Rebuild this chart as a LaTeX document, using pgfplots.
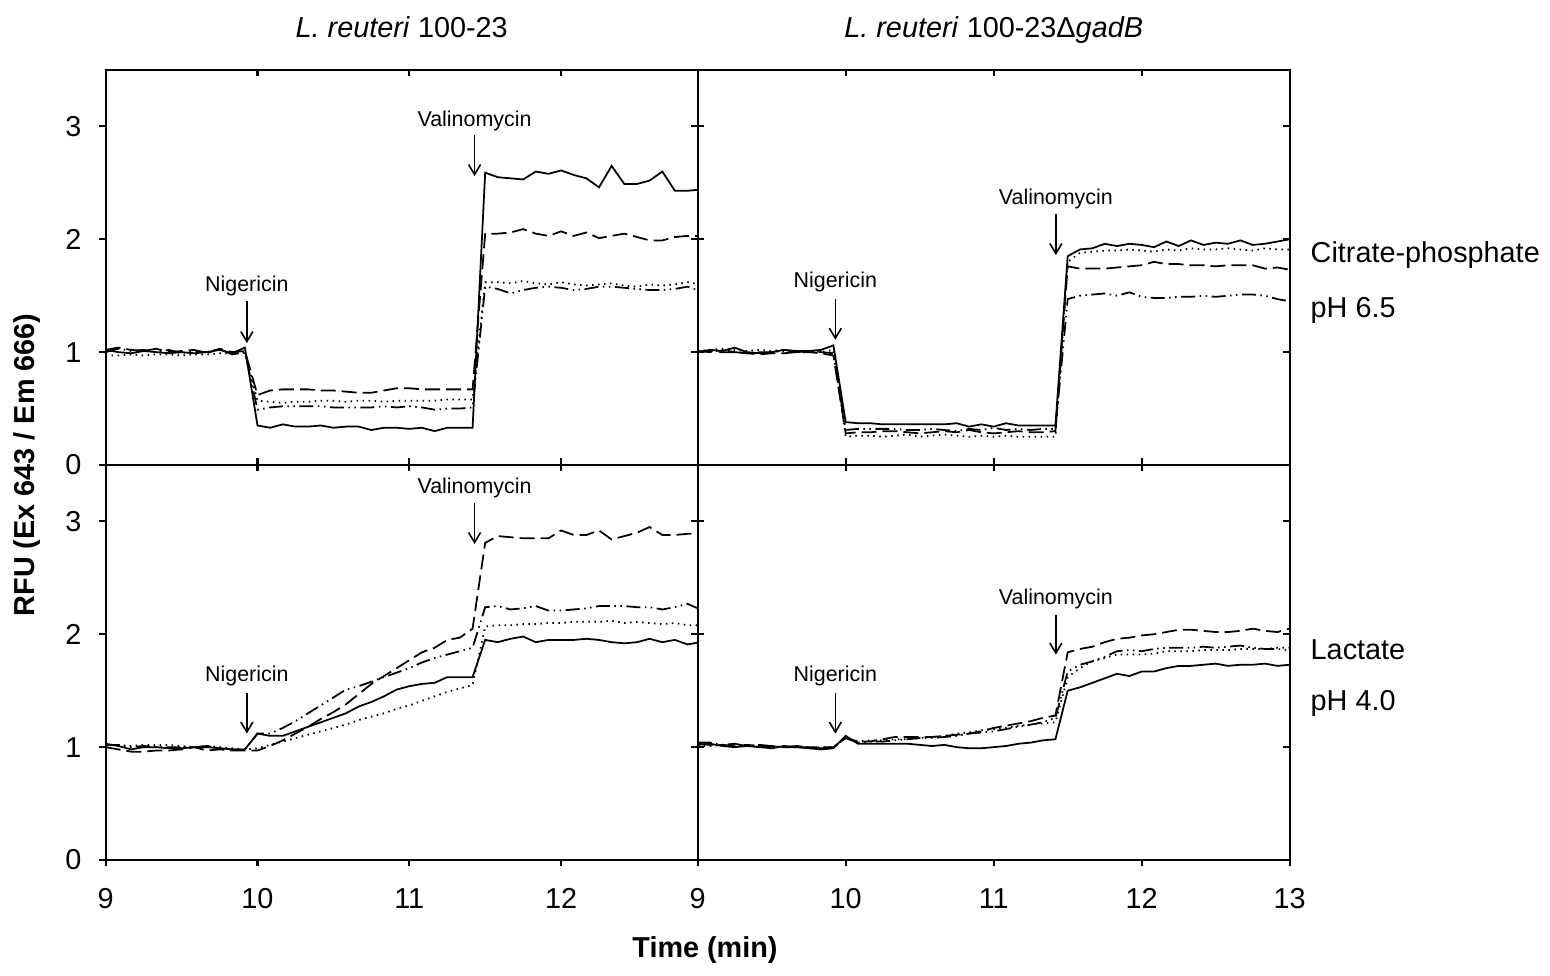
\documentclass[border=0pt]{standalone}
\usepackage{fontspec}
\setmainfont{Liberation Sans}
\usepackage{pgfplots}
\usepackage{pgfplotstable}
\pgfplotsset{compat=1.18}
\usetikzlibrary{arrows.meta}

\newcommand{\ticklab}{\fontsize{8.2}{9.8}\selectfont}
\newcommand{\annot}{\fontsize{6.1}{7.3}\selectfont}
\newcommand{\sidelab}{\fontsize{8.2}{9.8}\selectfont}

% columns: t = time (min), s = solid, d = dashed, o = dotted, dd = dash-dot-dot
\pgfplotstableread{
t s d o dd
9.000 1.02 1.02 0.97 1.00
9.083 1.00 1.04 0.97 1.03
9.167 0.99 1.02 0.98 1.01
9.250 1.01 1.01 0.97 1.02
9.333 1.00 1.03 0.98 1.00
9.417 0.99 1.00 0.98 1.02
9.500 1.00 1.01 0.97 0.99
9.583 0.99 1.02 0.98 1.01
9.667 1.00 0.99 0.98 1.00
9.750 1.02 1.03 0.99 1.03
9.833 0.99 1.00 0.99 0.98
9.917 1.04 1.01 0.99 1.00
10.000 0.35 0.62 0.57 0.49
10.083 0.33 0.66 0.56 0.51
10.167 0.36 0.67 0.55 0.52
10.250 0.34 0.67 0.56 0.52
10.333 0.34 0.67 0.56 0.52
10.417 0.35 0.66 0.57 0.52
10.500 0.33 0.66 0.57 0.51
10.583 0.34 0.65 0.56 0.51
10.667 0.34 0.64 0.57 0.51
10.750 0.31 0.64 0.57 0.51
10.833 0.33 0.66 0.56 0.52
10.917 0.33 0.68 0.57 0.51
11.000 0.32 0.68 0.57 0.52
11.083 0.33 0.67 0.57 0.51
11.167 0.30 0.67 0.57 0.49
11.250 0.33 0.67 0.58 0.50
11.333 0.33 0.67 0.58 0.50
11.417 0.33 0.67 0.58 0.51
11.500 2.59 2.05 1.62 1.58
11.583 2.55 2.05 1.62 1.56
11.667 2.54 2.06 1.61 1.52
11.750 2.53 2.09 1.63 1.55
11.833 2.60 2.05 1.61 1.57
11.917 2.58 2.03 1.60 1.58
12.000 2.61 2.07 1.62 1.57
12.083 2.57 2.03 1.60 1.55
12.167 2.54 2.06 1.59 1.56
12.250 2.46 2.01 1.60 1.58
12.333 2.65 2.03 1.61 1.58
12.417 2.49 2.05 1.59 1.57
12.500 2.49 2.02 1.58 1.56
12.583 2.52 1.99 1.60 1.55
12.667 2.60 1.99 1.59 1.55
12.750 2.43 2.02 1.60 1.56
12.833 2.43 2.03 1.62 1.58
12.917 2.44 2.03 1.60 1.54
}\TL

\pgfplotstableread{
t s d o dd
9.000 1.00 1.00 1.01 1.01
9.083 1.02 1.01 1.02 1.00
9.167 1.01 1.00 1.03 1.02
9.250 1.04 1.00 1.02 1.00
9.333 1.00 0.99 1.01 0.99
9.417 0.99 0.98 1.02 1.00
9.500 1.00 0.99 1.01 1.00
9.583 1.02 0.99 1.02 1.01
9.667 1.01 1.00 1.00 1.00
9.750 1.01 1.00 1.01 1.01
9.833 1.02 0.99 1.00 1.00
9.917 1.06 0.97 1.02 0.99
10.000 0.38 0.28 0.25 0.31
10.083 0.37 0.29 0.26 0.32
10.167 0.37 0.29 0.26 0.32
10.250 0.36 0.30 0.25 0.32
10.333 0.36 0.30 0.26 0.32
10.417 0.36 0.29 0.27 0.31
10.500 0.36 0.28 0.25 0.31
10.583 0.36 0.29 0.26 0.32
10.667 0.36 0.30 0.27 0.31
10.750 0.37 0.29 0.26 0.30
10.833 0.34 0.31 0.25 0.32
10.917 0.36 0.29 0.26 0.31
11.000 0.34 0.28 0.25 0.33
11.083 0.37 0.29 0.26 0.31
11.167 0.35 0.30 0.25 0.32
11.250 0.35 0.29 0.25 0.31
11.333 0.35 0.29 0.25 0.32
11.417 0.35 0.30 0.25 0.32
11.500 1.85 1.76 1.80 1.47
11.583 1.91 1.74 1.88 1.50
11.667 1.92 1.74 1.89 1.51
11.750 1.96 1.74 1.90 1.52
11.833 1.94 1.75 1.90 1.50
11.917 1.96 1.76 1.91 1.53
12.000 1.95 1.77 1.90 1.49
12.083 1.93 1.80 1.89 1.48
12.167 1.98 1.78 1.91 1.48
12.250 1.94 1.78 1.90 1.49
12.333 1.99 1.77 1.92 1.49
12.417 1.95 1.77 1.91 1.50
12.500 1.97 1.76 1.91 1.49
12.583 1.96 1.77 1.92 1.50
12.667 1.99 1.77 1.91 1.51
12.750 1.95 1.77 1.90 1.51
12.833 1.96 1.74 1.92 1.50
12.917 1.98 1.75 1.91 1.47
13.000 2.00 1.73 1.91 1.45
}\TR

\pgfplotstableread{
t s d o dd
9.000 1.03 1.00 1.02 1.02
9.083 1.01 0.98 1.02 1.02
9.167 0.98 0.96 1.01 1.00
9.250 1.00 0.96 1.02 1.01
9.333 1.00 0.97 1.02 1.00
9.417 0.99 0.97 1.02 1.00
9.500 0.99 0.98 1.01 1.00
9.583 1.00 1.00 1.00 1.00
9.667 1.00 0.97 1.01 1.01
9.750 0.99 0.98 1.00 0.99
9.833 0.98 0.97 0.99 0.98
9.917 0.98 0.97 0.98 0.98
10.000 1.12 0.97 0.99 1.12
10.083 1.10 1.01 1.02 1.12
10.167 1.10 1.06 1.05 1.17
10.250 1.14 1.12 1.08 1.23
10.333 1.18 1.18 1.11 1.30
10.417 1.22 1.25 1.14 1.37
10.500 1.26 1.31 1.17 1.44
10.583 1.30 1.38 1.20 1.51
10.667 1.36 1.47 1.24 1.54
10.750 1.40 1.56 1.27 1.58
10.833 1.45 1.63 1.30 1.62
10.917 1.51 1.70 1.34 1.66
11.000 1.54 1.77 1.37 1.70
11.083 1.56 1.84 1.41 1.75
11.167 1.57 1.88 1.45 1.79
11.250 1.62 1.95 1.49 1.82
11.333 1.62 1.97 1.52 1.85
11.417 1.62 2.05 1.55 1.88
11.500 1.95 2.81 2.07 2.24
11.583 1.93 2.87 2.08 2.25
11.667 1.96 2.86 2.08 2.22
11.750 1.98 2.85 2.09 2.23
11.833 1.93 2.85 2.09 2.25
11.917 1.95 2.85 2.10 2.21
12.000 1.95 2.92 2.10 2.21
12.083 1.95 2.88 2.11 2.22
12.167 1.96 2.88 2.11 2.23
12.250 1.95 2.92 2.11 2.25
12.333 1.93 2.84 2.12 2.25
12.417 1.92 2.87 2.10 2.25
12.500 1.93 2.90 2.11 2.24
12.583 1.96 2.95 2.10 2.24
12.667 1.93 2.88 2.09 2.22
12.750 1.95 2.88 2.10 2.24
12.833 1.91 2.89 2.08 2.27
12.917 1.93 2.89 2.08 2.22
}\BL

\pgfplotstableread{
t s d o dd
9.000 1.02 1.03 1.01 1.04
9.083 1.03 1.02 1.01 1.04
9.167 1.01 1.02 1.02 1.02
9.250 1.00 1.01 1.02 1.03
9.333 1.01 1.02 1.01 1.01
9.417 1.00 1.01 1.01 1.02
9.500 0.99 1.01 1.00 1.01
9.583 1.01 1.00 1.00 1.00
9.667 1.00 1.00 1.00 1.01
9.750 0.99 1.00 0.99 1.00
9.833 0.98 1.00 1.00 0.99
9.917 0.99 1.00 1.00 1.00
10.000 1.10 1.08 1.08 1.08
10.083 1.03 1.05 1.05 1.04
10.167 1.03 1.05 1.06 1.05
10.250 1.03 1.07 1.06 1.05
10.333 1.03 1.09 1.07 1.06
10.417 1.03 1.09 1.07 1.07
10.500 1.02 1.09 1.08 1.08
10.583 1.01 1.09 1.09 1.08
10.667 1.02 1.10 1.10 1.09
10.750 1.00 1.11 1.12 1.10
10.833 0.99 1.12 1.13 1.12
10.917 0.99 1.14 1.15 1.13
11.000 1.00 1.17 1.16 1.14
11.083 1.01 1.19 1.17 1.16
11.167 1.03 1.21 1.19 1.18
11.250 1.04 1.23 1.20 1.20
11.333 1.06 1.26 1.21 1.22
11.417 1.07 1.28 1.22 1.26
11.500 1.50 1.84 1.62 1.67
11.583 1.53 1.87 1.70 1.73
11.667 1.57 1.89 1.76 1.76
11.750 1.61 1.93 1.79 1.80
11.833 1.65 1.96 1.82 1.85
11.917 1.63 1.97 1.82 1.86
12.000 1.67 1.99 1.82 1.85
12.083 1.67 2.00 1.83 1.87
12.167 1.70 2.02 1.85 1.88
12.250 1.72 2.04 1.85 1.88
12.333 1.72 2.04 1.85 1.88
12.417 1.73 2.03 1.86 1.89
12.500 1.74 2.02 1.86 1.88
12.583 1.72 2.02 1.86 1.89
12.667 1.73 2.03 1.87 1.90
12.750 1.73 2.05 1.87 1.88
12.833 1.74 2.03 1.87 1.87
12.917 1.72 2.02 1.88 1.87
13.000 1.73 2.05 1.88 1.86
}\BR

\pgfplotsset{
  panel/.style={
    scale only axis, width=5.92cm, height=3.95cm,
    xmin=9, ymin=0, ymax=3.5,
    xtick={9,10,11,12,13}, ytick={0,1,2,3},
    major tick length=0.065cm,
    axis line style={line width=0.6pt},
    every tick/.style={black, line width=0.6pt},
    ticklabel style={font=\ticklab},
    xticklabel style={anchor=north, text height=0.72em, text depth=0pt, inner sep=0pt, yshift=-0.16cm},
    yticklabel style={anchor=east, inner sep=0pt, xshift=-0.17cm},
    /pgf/number format/assume math mode=true,
  },
  inner/.style={panel, tick align=inside, xticklabels={}, yticklabels={}},
  outer/.style={panel, tick align=outside},
  lsolid/.style={black, line width=0.5pt, solid},
  ldash/.style={black, line width=0.5pt, dash pattern=on 0.15cm off 0.06cm},
  ldot/.style={black, line width=0.5pt, dash pattern=on 0.015cm off 0.045cm},
  ldd/.style={black, line width=0.5pt, dash pattern=on 0.14cm off 0.045cm on 0.015cm off 0.045cm on 0.015cm off 0.045cm},
}
\tikzset{barb/.style={-{Straight Barb[length=0.1cm,width=0.12cm]}, line width=0.45pt}}

\begin{document}
\begin{tikzpicture}
\useasboundingbox (0,0) rectangle (15.5,9.76);

% top left
\begin{axis}[inner, at={(1.057cm,5.11cm)}, anchor=south west, xmax=12.9, xtick pos=both, ytick pos=right]
\addplot[lsolid] table[x=t,y=s] {\TL};
\addplot[ldash] table[x=t,y=d] {\TL};
\addplot[ldot] table[x=t,y=o] {\TL};
\addplot[ldd] table[x=t,y=dd] {\TL};
\node[font=\annot] at (axis cs:9.93,1.59) {Nigericin};
\draw[barb] (axis cs:9.93,1.45) -- (axis cs:9.93,1.08);
\node[font=\annot] at (axis cs:11.43,3.05) {Valinomycin};
\draw[barb] (axis cs:11.43,2.92) -- (axis cs:11.43,2.56);
\end{axis}
\begin{axis}[outer, at={(1.057cm,5.11cm)}, anchor=south west, xmax=12.9, hide x axis, axis y line*=left]
\end{axis}

% bottom left
\begin{axis}[inner, at={(1.057cm,1.16cm)}, anchor=south west, xmax=12.9, xtick pos=top, ytick pos=right]
\addplot[lsolid] table[x=t,y=s] {\BL};
\addplot[ldash] table[x=t,y=d] {\BL};
\addplot[ldot] table[x=t,y=o] {\BL};
\addplot[ldd] table[x=t,y=dd] {\BL};
\node[font=\annot] at (axis cs:9.93,1.63) {Nigericin};
\draw[barb] (axis cs:9.93,1.48) -- (axis cs:9.93,1.12);
\node[font=\annot] at (axis cs:11.43,3.30) {Valinomycin};
\draw[barb] (axis cs:11.43,3.16) -- (axis cs:11.43,2.80);
\end{axis}
\begin{axis}[outer, at={(1.057cm,1.16cm)}, anchor=south west, xmax=12.9, axis x line*=bottom, axis y line*=left]
\end{axis}

% top right
\begin{axis}[inner, at={(6.977cm,5.11cm)}, anchor=south west, xmax=13, xtick pos=both, ytick pos=both]
\addplot[lsolid] table[x=t,y=s] {\TR};
\addplot[ldash] table[x=t,y=d] {\TR};
\addplot[ldot] table[x=t,y=o] {\TR};
\addplot[ldd] table[x=t,y=dd] {\TR};
\node[font=\annot] at (axis cs:9.93,1.62) {Nigericin};
\draw[barb] (axis cs:9.93,1.47) -- (axis cs:9.93,1.11);
\node[font=\annot] at (axis cs:11.42,2.36) {Valinomycin};
\draw[barb] (axis cs:11.42,2.22) -- (axis cs:11.42,1.86);
\end{axis}

% bottom right
\begin{axis}[inner, at={(6.977cm,1.16cm)}, anchor=south west, xmax=13, xtick pos=top, ytick pos=both]
\addplot[lsolid] table[x=t,y=s] {\BR};
\addplot[ldash] table[x=t,y=d] {\BR};
\addplot[ldot] table[x=t,y=o] {\BR};
\addplot[ldd] table[x=t,y=dd] {\BR};
\node[font=\annot] at (axis cs:9.93,1.63) {Nigericin};
\draw[barb] (axis cs:9.93,1.48) -- (axis cs:9.93,1.12);
\node[font=\annot] at (axis cs:11.42,2.31) {Valinomycin};
\draw[barb] (axis cs:11.42,2.17) -- (axis cs:11.42,1.82);
\end{axis}
\begin{axis}[outer, at={(6.977cm,1.16cm)}, anchor=south west, xmax=13, axis x line*=bottom, hide y axis]
\end{axis}

% titles and labels
\node[font=\sidelab, anchor=base] at (4.017,9.38) {\textit{L. reuteri} 100-23};
\node[font=\sidelab, anchor=base] at (9.937,9.38) {\textit{L. reuteri} 100-23Δ\textit{gadB}};
\node[font=\sidelab, anchor=west, inner sep=0pt] at (13.10,7.21) {Citrate-phosphate};
\node[font=\sidelab, anchor=west, inner sep=0pt] at (13.10,6.66) {pH 6.5};
\node[font=\sidelab, anchor=west, inner sep=0pt] at (13.10,3.26) {Lactate};
\node[font=\sidelab, anchor=west, inner sep=0pt] at (13.10,2.73) {pH 4.0};
\node[font=\sidelab\bfseries, rotate=90] at (0.27,5.11) {RFU (Ex 643 / Em 666)};
\node[font=\sidelab\bfseries] at (7.05,0.26) {Time (min)};
\end{tikzpicture}
\end{document}
